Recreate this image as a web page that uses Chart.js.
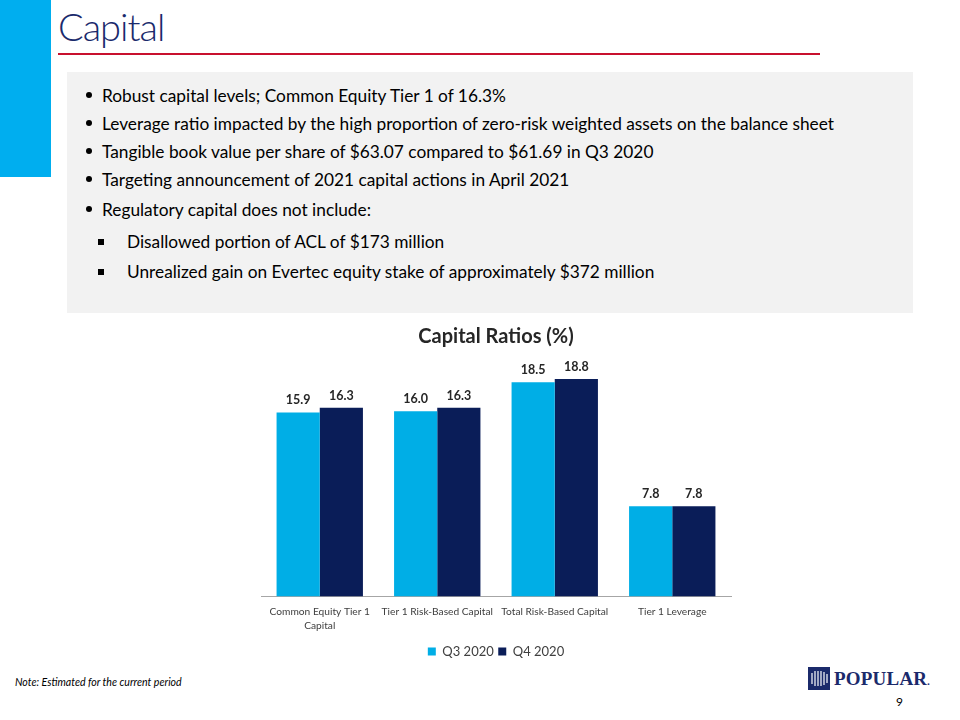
<!DOCTYPE html>
<html>
<head>
<meta charset="utf-8">
<script src="https://cdn.jsdelivr.net/npm/chart.js@4.4.0/dist/chart.umd.min.js"></script>
<style>
  html, body { margin:0; padding:0; background:#ffffff; }
  body { width:960px; height:720px; position:relative; overflow:hidden; font-family: Lato, "Noto Sans", sans-serif; }
  .abs { position:absolute; }
  #sidebar { left:0; top:0; width:51px; height:177px; background:#00AEEF; }
  #title { left:58px; top:2px; font-size:38px; font-weight:300; color:#1A2A6C; line-height:48px; letter-spacing:-1px; }
  #rule { left:58px; top:53px; width:762px; height:2px; background:#C8102E; }
  #box { left:67px; top:72px; width:846px; height:241px; background:#F2F2F2; }
  .bl { position:absolute; font-size:17.3px; color:#000; line-height:20px; white-space:nowrap; }
  .dot { position:absolute; width:6px; height:6px; border-radius:50%; background:#000; }
  .sq { position:absolute; width:6px; height:6px; background:#000; }
  #note { left:15px; top:676px; font-size:10.6px; font-style:italic; color:#000; }
  #page { left:896px; top:694px; font-size:12px; color:#000; }
  #logoBox { left:808px; top:667px; width:22px; height:23px; background:#1B2A6B; }
  #logoText { left:834px; top:667px; font-family:"Liberation Serif", serif; font-weight:bold; font-size:19px; color:#1B2A6B; line-height:23px; letter-spacing:0.2px; }
  #chartWrap { left:240px; top:317px; width:520px; height:351px; }
</style>
</head>
<body>
<div id="sidebar" class="abs"></div>
<div id="title" class="abs">Capital</div>
<div id="rule" class="abs"></div>
<div id="box" class="abs"></div>

<div class="dot" style="left:86px;top:92px"></div>
<div class="bl" style="left:102px;top:86px">Robust capital levels; Common Equity Tier 1 of 16.3%</div>
<div class="dot" style="left:86px;top:120px"></div>
<div class="bl" style="left:102px;top:114px">Leverage ratio impacted by the high proportion of zero-risk weighted assets on the balance sheet</div>
<div class="dot" style="left:86px;top:148px"></div>
<div class="bl" style="left:102px;top:142px">Tangible book value per share of $63.07 compared to $61.69 in Q3 2020</div>
<div class="dot" style="left:86px;top:176px"></div>
<div class="bl" style="left:102px;top:170px">Targeting announcement of 2021 capital actions in April 2021</div>
<div class="dot" style="left:86px;top:206px"></div>
<div class="bl" style="left:102px;top:200px">Regulatory capital does not include:</div>
<div class="sq" style="left:98px;top:239px"></div>
<div class="bl" style="left:127px;top:232px">Disallowed portion of ACL of $173 million</div>
<div class="sq" style="left:98px;top:269px"></div>
<div class="bl" style="left:127px;top:262px">Unrealized gain on Evertec equity stake of approximately $372 million</div>

<div id="chartWrap" class="abs"><canvas id="c" width="520" height="351"></canvas></div>

<div id="note" class="abs">Note: Estimated for the current period</div>
<div id="logoBox" class="abs">
  <svg width="22" height="23" viewBox="0 0 22 23">
    <g stroke="#ffffff" stroke-width="1.2" fill="none">
      <path d="M4 6 L4 17"/><path d="M7 4 L7 19"/><path d="M10 4 L10 19"/><path d="M13 4 L13 19"/><path d="M16 5 L16 18"/><path d="M19 7 L19 16"/>
    </g>
  </svg>
</div>
<div id="logoText" class="abs">POPULAR<span style="font-size:10px">.</span></div>
<div id="page" class="abs">9</div>

<script>
const categories = [["Common Equity Tier 1", "Capital"], "Tier 1 Risk-Based Capital", "Total Risk-Based Capital", "Tier 1 Leverage"];
const seriesNames = ["Q3 2020", "Q4 2020"];
const q3Values = [15.9, 16.0, 18.5, 7.8];
const q4Values = [16.3, 16.3, 18.8, 7.8];
const chartTitle = "Capital Ratios (%)";

const valueLabels = {
  id: 'valueLabels',
  afterDatasetsDraw(chart) {
    const ctx = chart.ctx;
    ctx.save();
    ctx.font = 'bold 12.5px Lato, "Noto Sans", sans-serif';
    ctx.fillStyle = '#262626';
    ctx.textAlign = 'center';
    ctx.textBaseline = 'middle';
    chart.data.datasets.forEach((ds, i) => {
      const meta = chart.getDatasetMeta(i);
      meta.data.forEach((bar, j) => {
        ctx.fillText(ds.data[j].toFixed(1), bar.x, bar.y - 12);
      });
    });
    ctx.restore();
  }
};

new Chart(document.getElementById('c'), {
  type: 'bar',
  data: {
    labels: categories,
    datasets: [
      { label: seriesNames[0], data: q3Values, backgroundColor: '#00AEE6', categoryPercentage: 0.735, barPercentage: 1.0 },
      { label: seriesNames[1], data: q4Values, backgroundColor: '#0A1D58', categoryPercentage: 0.735, barPercentage: 1.0 }
    ]
  },
  options: {
    responsive: false,
    animation: false,
    layout: { padding: { left: 21, right: 29, top: 0, bottom: 0 } },
    plugins: {
      title: { display: true, text: chartTitle, color: '#262626', font: { family: 'Lato, "Noto Sans", sans-serif', size: 20, weight: 'bold' }, padding: { top: 8, bottom: 16 } },
      legend: { position: 'bottom', labels: { color: '#404040', boxWidth: 8, boxHeight: 8, font: { family: 'Lato, "Noto Sans", sans-serif', size: 13 }, padding: 4.5 } },
      tooltip: { enabled: false }
    },
    scales: {
      y: { display: false, min: 0, max: 20 },
      x: {
        grid: { display: false, drawTicks: false },
        border: { display: true, color: '#A6A6A6', width: 1 },
        ticks: { color: '#404040', padding: 8, maxRotation: 0, autoSkip: false, font: { family: 'Lato, "Noto Sans", sans-serif', size: 10.2, lineHeight: 1.37 } }
      }
    }
  },
  plugins: [valueLabels]
});
</script>
</body>
</html>
